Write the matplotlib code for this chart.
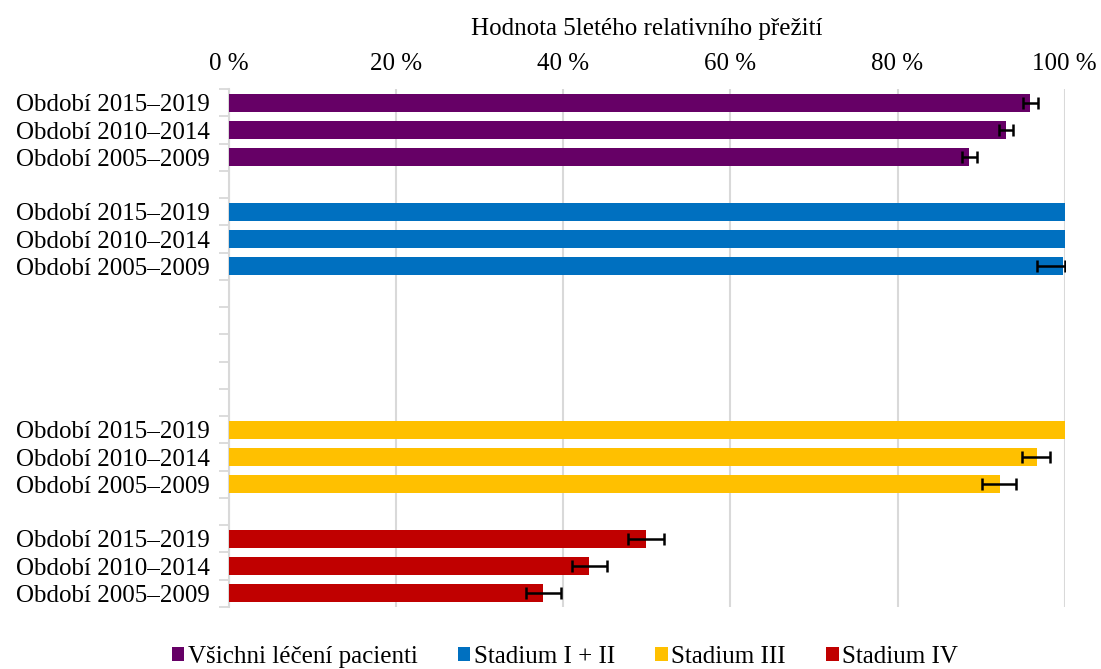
import matplotlib
matplotlib.use("Agg")
import matplotlib.pyplot as plt
import numpy as np
from matplotlib.patches import Patch

plt.rcParams['font.family'] = ['Liberation Serif', 'DejaVu Serif']

periods = ["Období 2015–2019", "Období 2010–2014", "Období 2005–2009"]
groups = ["Všichni léčení pacienti", "Stadium I + II", "Stadium III", "Stadium IV"]
colors = ["#660066", "#0070C0", "#FFC000", "#C00000"]
values = {
    "Všichni léčení pacienti": [95.9, 93.0, 88.6],
    "Stadium I + II": [100.0, 100.0, 99.8],
    "Stadium III": [100.0, 96.7, 92.3],
    "Stadium IV": [49.9, 43.1, 37.6],
}
err_low = {
    "Všichni léčení pacienti": [0.85, 0.8, 0.9],
    "Stadium I + II": [0.0, 0.0, 3.1],
    "Stadium III": [0.0, 1.8, 2.2],
    "Stadium IV": [2.2, 2.1, 2.1],
}
err_high = {
    "Všichni léčení pacienti": [0.85, 0.8, 0.9],
    "Stadium I + II": [0.0, 0.0, 0.25],
    "Stadium III": [0.0, 1.6, 1.9],
    "Stadium IV": [2.2, 2.1, 2.1],
}
group_start_rows = [0, 4, 12, 16]
n_rows = 19
xticks = [0, 20, 40, 60, 80, 100]
xlabel = "Hodnota 5letého relativního přežití"

FS = 18
fig = plt.figure(figsize=(11.01, 6.69), dpi=100)
ax = fig.add_axes([0.208, 0.0927, 0.759, 0.774])

grid_c = "#d9d9d9"
ytick_pos, ytick_lab = [], []
for g, c, start in zip(groups, colors, group_start_rows):
    ys = np.arange(start, start + 3)
    v = values[g]
    ax.barh(ys, v, height=0.66, color=c, zorder=3)
    lo, hi = np.array(err_low[g]), np.array(err_high[g])
    mask = (lo + hi) > 0
    if mask.any():
        ax.errorbar(np.array(v)[mask], ys[mask], xerr=[lo[mask], hi[mask]],
                    fmt='none', ecolor='black', elinewidth=1.8, capsize=4.5,
                    capthick=1.8, zorder=4)
    ytick_pos += list(ys)
    ytick_lab += periods

ax.set_ylim(n_rows - 0.5, -0.5)
ax.set_xlim(0, 100)
ax.set_yticks(ytick_pos)
ax.set_yticklabels(ytick_lab, fontsize=FS)
ax.set_yticks(np.arange(-0.5, n_rows, 1), minor=True)
ax.tick_params(axis='y', which='major', length=0, pad=14)
ax.tick_params(axis='y', which='minor', length=7, width=1.3, color=grid_c)

ax.xaxis.tick_top()
ax.xaxis.set_label_position('top')
ax.set_xticks(xticks)
ax.set_xticklabels([f"{t} %" for t in xticks], fontsize=FS)
ax.tick_params(axis='x', length=0, pad=10)
ax.set_xlabel(xlabel, fontsize=FS, labelpad=13)
ax.grid(axis='x', color=grid_c, linewidth=1.5, zorder=0)

for s in ['top', 'right', 'bottom']:
    ax.spines[s].set_visible(False)
ax.spines['left'].set_color(grid_c)
ax.spines['left'].set_linewidth(1.5)

handles = [Patch(facecolor=c, edgecolor='none') for c in colors]
fig.legend(handles, groups, loc='center', bbox_to_anchor=(0.513, 0.018), ncol=4,
           frameon=False, fontsize=FS, handlelength=0.5, handleheight=0.5,
           handletextpad=0.15, columnspacing=1.6)

fig.savefig("out.png", dpi=100)
